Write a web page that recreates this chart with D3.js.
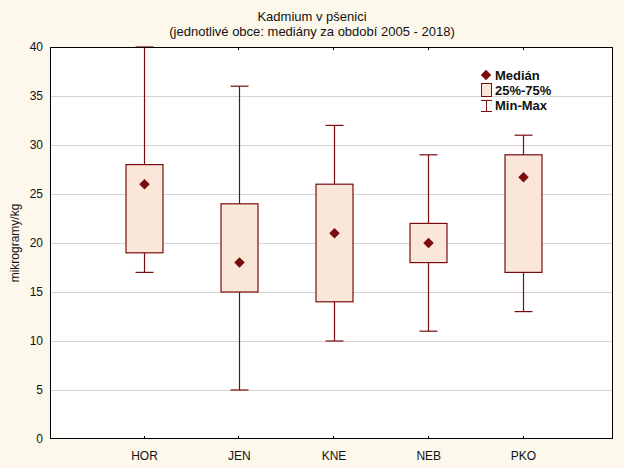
<!DOCTYPE html>
<html><head><meta charset="utf-8">
<script src="https://cdn.jsdelivr.net/npm/d3@7"></script>
<style>body{margin:0;background:#fdf8ec;} svg{display:block;}</style>
</head><body>
<script>
const categories = ["HOR","JEN","KNE","NEB","PKO"];
const minVals    = [17, 5, 10, 11, 13];
const q1Vals     = [19, 15, 14, 18, 17];
const medianVals = [26, 18, 21, 20, 26.7];
const q3Vals     = [28, 24, 26, 22, 29];
const maxVals    = [40, 36, 32, 29, 31];
const yTicks = [0,5,10,15,20,25,30,35,40];

const W=624,H=468;
const L=50,R=613,T=47,B=439;
const dark="#7a0c0c", fill="#fbe6da";
const font="Arial, 'Liberation Sans', sans-serif";

const svg=d3.select("body").append("svg").attr("width",W).attr("height",H)
  .style("font-family",font);
svg.append("rect").attr("width",W).attr("height",H).attr("fill","#fdf8ec");
svg.append("rect").attr("x",L).attr("y",T).attr("width",R-L).attr("height",B-T).attr("fill","#fff");

const y=d3.scaleLinear().domain([0,40]).range([B,T]);
const x=d3.scalePoint().domain(categories).range([144,523]);

// grid
svg.append("g").selectAll("line").data(yTicks.slice(1,-1)).join("line")
  .attr("x1",L).attr("x2",R).attr("y1",d=>y(d)).attr("y2",d=>y(d))
  .attr("stroke","#d4d4d4").attr("stroke-width",1).attr("shape-rendering","crispEdges");

// y axis labels
svg.append("g").attr("transform",`translate(${L},0)`)
  .call(d3.axisLeft(y).tickValues(yTicks).tickSize(0).tickPadding(7))
  .call(g=>g.select(".domain").remove())
  .call(g=>g.selectAll("text").attr("font-size",12).attr("font-family",font).attr("fill","#111"));

// x axis
svg.append("g").attr("transform",`translate(0,${B})`)
  .call(d3.axisBottom(x).tickSize(0).tickPadding(12))
  .call(g=>g.select(".domain").remove())
  .call(g=>g.selectAll("text").attr("font-size",12).attr("font-family",font).attr("fill","#111"));
// inner ticks bottom & top
svg.append("g").selectAll("line").data(categories).join("line")
  .attr("x1",d=>x(d)).attr("x2",d=>x(d)).attr("y1",B).attr("y2",B-3).attr("stroke","#000").attr("shape-rendering","crispEdges");
svg.append("g").selectAll("line").data(categories).join("line")
  .attr("x1",d=>x(d)).attr("x2",d=>x(d)).attr("y1",T).attr("y2",T+3).attr("stroke","#000").attr("shape-rendering","crispEdges");

const boxW=37, capW=18;
const g=svg.append("g");
categories.forEach((c,i)=>{
  const cx=Math.round(x(c))+0.5;
  g.append("line").attr("x1",cx).attr("x2",cx).attr("y1",y(maxVals[i])).attr("y2",y(minVals[i])).attr("stroke",dark).attr("stroke-width",1.2);
  g.append("line").attr("x1",cx-capW/2).attr("x2",cx+capW/2).attr("y1",y(minVals[i])).attr("y2",y(minVals[i])).attr("stroke",dark).attr("stroke-width",1.2);
  g.append("line").attr("x1",cx-capW/2).attr("x2",cx+capW/2).attr("y1",y(maxVals[i])).attr("y2",y(maxVals[i])).attr("stroke",dark).attr("stroke-width",1.2);
  g.append("rect").attr("x",cx-boxW/2).attr("y",y(q3Vals[i])).attr("width",boxW).attr("height",y(q1Vals[i])-y(q3Vals[i]))
    .attr("fill",fill).attr("stroke",dark).attr("stroke-width",1.2);
  g.append("path").attr("d",d3.symbol(d3.symbolSquare,55)())
    .attr("transform",`translate(${cx},${y(medianVals[i])}) rotate(45)`).attr("fill",dark);
});

// frame
svg.append("rect").attr("x",L+0.5).attr("y",T+0.5).attr("width",R-L-1).attr("height",B-T-1)
  .attr("fill","none").attr("stroke","#000").attr("stroke-width",1);

// titles
svg.append("text").attr("x",312).attr("y",21).attr("text-anchor","middle").attr("font-size",13).attr("fill","#111").text("Kadmium v pšenici");
svg.append("text").attr("x",312).attr("y",36).attr("text-anchor","middle").attr("font-size",13).attr("fill","#111").text("(jednotlivé obce: mediány za období 2005 - 2018)");
svg.append("text").attr("transform",`translate(19,${(T+B)/2}) rotate(-90)`).attr("text-anchor","middle").attr("font-size",12).attr("fill","#111").text("mikrogramy/kg");

// legend
const lg=svg.append("g").attr("font-size",13).attr("font-weight","bold").attr("fill","#111");
lg.append("path").attr("d",d3.symbol(d3.symbolSquare,55)()).attr("transform","translate(486,75) rotate(45)").attr("fill",dark);
lg.append("text").attr("x",495).attr("y",80).text("Medián");
lg.append("rect").attr("x",481.5).attr("y",83.5).attr("width",10).attr("height",13).attr("fill",fill).attr("stroke",dark);
lg.append("text").attr("x",495).attr("y",95).text("25%-75%");
lg.append("line").attr("x1",486.5).attr("x2",486.5).attr("y1",100).attr("y2",112).attr("stroke",dark);
lg.append("line").attr("x1",481).attr("x2",492).attr("y1",100.5).attr("y2",100.5).attr("stroke",dark);
lg.append("line").attr("x1",481).attr("x2",492).attr("y1",111.5).attr("y2",111.5).attr("stroke",dark);
lg.append("text").attr("x",495).attr("y",110).text("Min-Max");
</script>
</body></html>
